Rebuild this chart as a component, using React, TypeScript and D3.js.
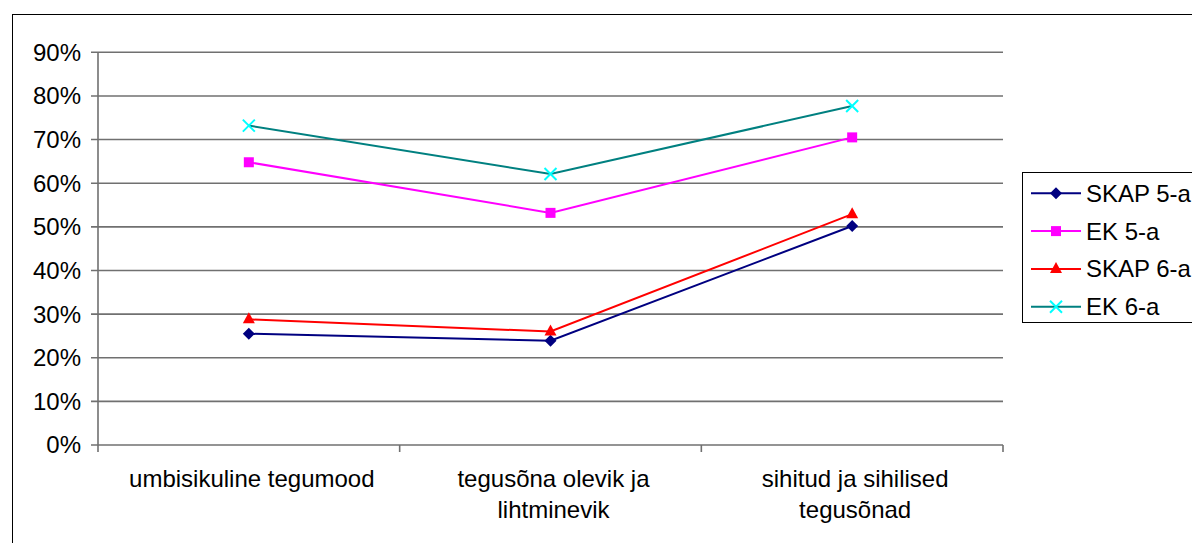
import React from "react";
import * as d3 from "d3";

const categories = [
  ["umbisikuline tegumood"],
  ["tegusõna olevik ja", "lihtminevik"],
  ["sihitud ja sihilised", "tegusõnad"],
];
const seriesNames = ["SKAP 5-a", "EK 5-a", "SKAP 6-a", "EK 6-a"];
const skap5 = [0.255, 0.239, 0.502];
const ek5 = [0.648, 0.532, 0.705];
const skap6 = [0.288, 0.26, 0.529];
const ek6 = [0.732, 0.621, 0.777];
const yTicks = [0, 0.1, 0.2, 0.3, 0.4, 0.5, 0.6, 0.7, 0.8, 0.9];

const W = 1192;
const H = 543;
const FONT = "'Liberation Sans', Arial, sans-serif";
const FS = 24;

const styles = [
  { line: "#000080", fill: "#000080", marker: "diamond" },
  { line: "#ff00ff", fill: "#ff00ff", marker: "square" },
  { line: "#ff0000", fill: "#ff0000", marker: "triangle" },
  { line: "#008080", fill: "#00ffff", marker: "cross" },
];

function Marker({ kind, x, y, color }: { kind: string; x: number; y: number; color: string }) {
  if (kind === "diamond") {
    return <path d={`M${x},${y - 6}L${x + 6},${y}L${x},${y + 6}L${x - 6},${y}Z`} fill={color} />;
  }
  if (kind === "square") {
    return <rect x={x - 5} y={y - 5} width={10} height={10} fill={color} />;
  }
  if (kind === "triangle") {
    return <path d={`M${x},${y - 7}L${x + 6},${y + 4}L${x - 6},${y + 4}Z`} fill={color} />;
  }
  return (
    <path
      d={`M${x - 6},${y - 6}L${x + 6},${y + 6}M${x + 6},${y - 6}L${x - 6},${y + 6}`}
      stroke={color}
      strokeWidth={2}
    />
  );
}

export default function App() {
  const data = [skap5, ek5, skap6, ek6];
  const left = 98;
  const right = 1003;
  const top = 52.3;
  const bottom = 445;

  const x = d3
    .scaleBand<number>()
    .domain(d3.range(categories.length))
    .range([left, right]);
  const y = d3.scaleLinear().domain([0, 0.9]).range([bottom, top]);
  const line = d3
    .line<number>()
    .x((_, i) => x(i)! + x.bandwidth() / 2)
    .y((d) => y(d));
  const fmt = d3.format(".0%");

  const bands = d3.range(categories.length + 1).map((i) => left + i * x.bandwidth());

  return (
    <svg
      width={W}
      height={H}
      style={{ position: "absolute", left: 0, top: 0, background: "#fff" }}
      fontFamily={FONT}
    >
      <rect x={12.5} y={14.5} width={W} height={H} fill="none" stroke="#000" strokeWidth={1} />

      {yTicks.map((t) => (
        <g key={t}>
          <line x1={91} x2={right} y1={y(t)} y2={y(t)} stroke="#707070" strokeWidth={1.6} />
          <text x={81} y={y(t)} dy="0.35em" textAnchor="end" fontSize={FS} fill="#000">
            {fmt(t)}
          </text>
        </g>
      ))}
      <line x1={left} x2={left} y1={top} y2={bottom} stroke="#707070" strokeWidth={1.6} />
      {bands.map((b, i) => (
        <line key={i} x1={b} x2={b} y1={bottom} y2={bottom + 7} stroke="#707070" strokeWidth={1.6} />
      ))}

      {categories.map((lines, i) => {
        const cx = x(i)! + x.bandwidth() / 2 + 3;
        return (
          <text key={i} x={cx} y={487} textAnchor="middle" fontSize={FS} fill="#000">
            {lines.map((l, j) => (
              <tspan key={j} x={cx} dy={j === 0 ? 0 : 31}>
                {l}
              </tspan>
            ))}
          </text>
        );
      })}

      {data.map((s, k) => (
        <g key={k}>
          <path d={line(s)!} fill="none" stroke={styles[k].line} strokeWidth={2} />
          {s.map((v, i) => (
            <Marker
              key={i}
              kind={styles[k].marker}
              x={x(i)! + x.bandwidth() / 2}
              y={y(v)}
              color={styles[k].fill}
            />
          ))}
        </g>
      ))}

      <rect x={1022.5} y={172.5} width={180} height={150} fill="#fff" stroke="#000" strokeWidth={1} />
      {seriesNames.map((n, k) => {
        const ly = 193.3 + k * 37.8;
        return (
          <g key={n}>
            <line x1={1031} x2={1081} y1={ly} y2={ly} stroke={styles[k].line} strokeWidth={2} />
            <Marker kind={styles[k].marker} x={1056} y={ly} color={styles[k].fill} />
            <text x={1086} y={ly} dy="0.35em" fontSize={FS} fill="#000">
              {n}
            </text>
          </g>
        );
      })}
    </svg>
  );
}
